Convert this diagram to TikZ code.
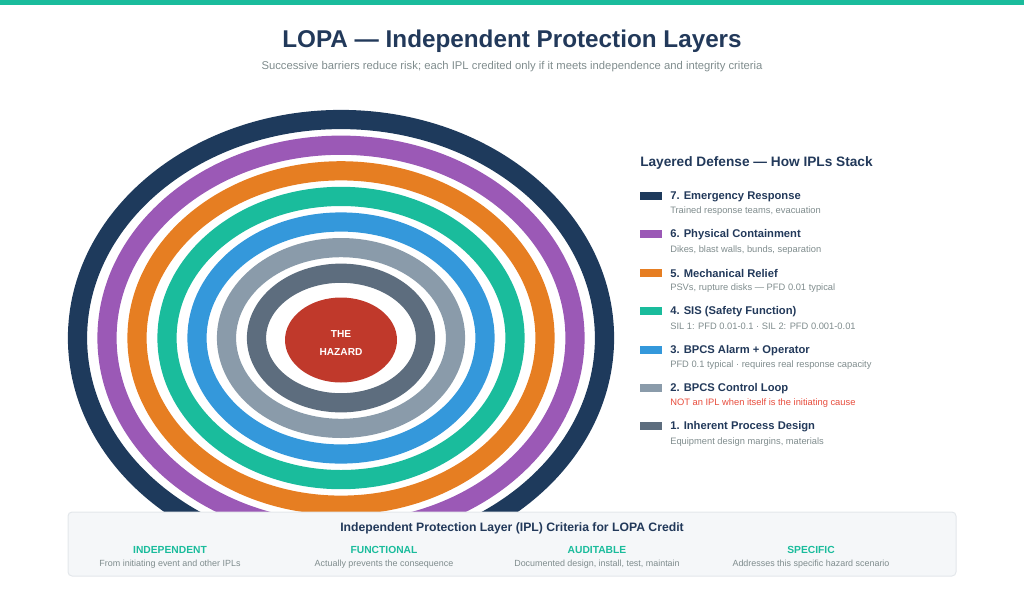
\documentclass[tikz,border=0pt]{standalone}
\usepackage{fontspec}
\setmainfont{Liberation Sans}
\usetikzlibrary{positioning}

\definecolor{topbar}{HTML}{1ABC9C}
\definecolor{ink}{HTML}{22395A}
\definecolor{muted}{HTML}{7F8C8D}
\definecolor{lay7}{HTML}{1E3A5C}
\definecolor{lay6}{HTML}{9B59B6}
\definecolor{lay5}{HTML}{E67E22}
\definecolor{lay4}{HTML}{1ABC9C}
\definecolor{lay3}{HTML}{3498DB}
\definecolor{lay2}{HTML}{8A9BAA}
\definecolor{lay1}{HTML}{5D6D7E}
\definecolor{hazardred}{HTML}{C0392B}
\definecolor{warnred}{HTML}{E74C3C}
\definecolor{boxfill}{HTML}{F5F7F9}
\definecolor{boxline}{HTML}{E3E7EB}

\tikzset{
  ring/.style={line width=14.4pt},
  swatch/.style={minimum width=16.5pt,minimum height=6pt,inner sep=0pt,anchor=west},
  itemtitle/.style={anchor=west,inner sep=0pt,text=ink,font=\fontsize{8.4}{10}\selectfont\bfseries},
  itemdesc/.style={anchor=west,inner sep=0pt,text=muted,font=\fontsize{7}{8}\selectfont},
  crithead/.style={inner sep=0pt,text=lay4,font=\fontsize{7.7}{9}\selectfont\bfseries},
  critdesc/.style={inner sep=0pt,text=muted,font=\fontsize{6.7}{8}\selectfont}
}

\begin{document}
\begin{tikzpicture}[x=0.75pt,y=-0.75pt]
\useasboundingbox (0,0) rectangle (1024,597);
\fill[topbar] (0,0) rectangle (1024,5);

% heading
\node[text=ink,font=\fontsize{18.2}{22}\selectfont\bfseries] (title) at (512,41.5) {LOPA — Independent Protection Layers};
\node[text=muted,font=\fontsize{8.45}{10}\selectfont] (subtitle) at (512,67) {Successive barriers reduce risk; each IPL credited only if it meets independence and integrity criteria};

% onion of layers
\begin{scope}
\clip (0,0) rectangle (1024,512);
\foreach \col/\rx/\ry in {lay7/263.5/218.5, lay6/234/192.8, lay5/204/167.2, lay4/174/141.6,
                          lay3/144/116, lay2/114.5/90.4, lay1/84.5/64.8}
  \draw[ring,\col] (341,338) ellipse [x radius=\rx, y radius=\ry];
\end{scope}
\fill[hazardred] (341,340) ellipse [x radius=56, y radius=42.5];
\node[text=white,align=center,font=\fontsize{7.6}{12.8}\selectfont\bfseries] (hazard) at (341,343) {THE\\HAZARD};

% legend
\node[anchor=west,inner sep=0pt,text=ink,font=\fontsize{10.25}{12}\selectfont\bfseries] (legend) at (640,162.5) {Layered Defense — How IPLs Stack};
\foreach \i/\col/\ttl/\dsc/\dcol in {
    0/lay7/{7. Emergency Response}/{Trained response teams, evacuation}/muted,
    1/lay6/{6. Physical Containment}/{Dikes, blast walls, bunds, separation}/muted,
    2/lay5/{5. Mechanical Relief}/{PSVs, rupture disks — PFD 0.01 typical}/muted,
    3/lay4/{4. SIS (Safety Function)}/{SIL 1: PFD 0.01-0.1 · SIL 2: PFD 0.001-0.01}/muted,
    4/lay3/{3. BPCS Alarm + Operator}/{PFD 0.1 typical · requires real response capacity}/muted,
    5/lay2/{2. BPCS Control Loop}/{NOT an IPL when itself is the initiating cause}/warnred,
    6/lay1/{1. Inherent Process Design}/{Equipment design margins, materials}/muted} {
  \node[swatch,fill=\col] (sw\i) at (640,196+38.4*\i) {};
  \node[itemtitle] (it\i) at (670,196.5+38.4*\i) {\ttl};
  \node[itemdesc,text=\dcol] (id\i) at (670,211.5+38.4*\i) {\dsc};
}

% criteria box
\filldraw[fill=boxfill,draw=boxline,line width=0.75pt,rounded corners=3pt] (68,512) rectangle (956,576);
\node[text=ink,font=\fontsize{9.15}{11}\selectfont\bfseries] (crit) at (512,528) {Independent Protection Layer (IPL) Criteria for LOPA Credit};
\node[crithead] (c1) at (170,550) {INDEPENDENT};
\node[critdesc] (d1) at (170,564) {From initiating event and other IPLs};
\node[crithead] (c2) at (384,550) {FUNCTIONAL};
\node[critdesc] (d2) at (384,564) {Actually prevents the consequence};
\node[crithead] (c3) at (597,550) {AUDITABLE};
\node[critdesc] (d3) at (597,564) {Documented design, install, test, maintain};
\node[crithead] (c4) at (811,550) {SPECIFIC};
\node[critdesc] (d4) at (811,564) {Addresses this specific hazard scenario};
\end{tikzpicture}
\end{document}
